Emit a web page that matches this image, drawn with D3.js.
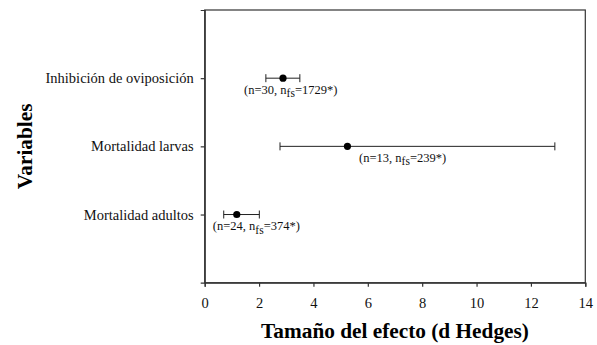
<!DOCTYPE html>
<html><head><meta charset="utf-8">
<script src="https://cdn.jsdelivr.net/npm/d3@7"></script>
<style>body{margin:0;background:#fff}svg{display:block}</style>
</head><body><svg id="c" width="597" height="345"></svg>
<script>
const categories = ["Inhibición de oviposición", "Mortalidad larvas", "Mortalidad adultos"];
const effect = [2.88, 5.25, 1.18];
const lower = [2.25, 2.77, 0.70];
const upper = [3.50, 12.88, 2.01];
const nStudies = [30, 13, 24];
const nFailSafe = [1729, 239, 374];
const labelX = [1.45, 5.68, 0.30];
const xTicks = [0, 2, 4, 6, 8, 10, 12, 14];

const svg = d3.select("#c");
const m = {l: 204.7, r: 585.3, t: 10, b: 282.7};
const x = d3.scaleLinear().domain([0, 14]).range([m.l, m.r]);
const y = d3.scalePoint().domain(categories).range([m.t, m.b]).padding(1);
const font = "'Liberation Serif','Times New Roman',serif";
const ax = "#333";

svg.append("rect").attr("x", m.l).attr("y", m.t).attr("width", m.r - m.l).attr("height", m.b - m.t)
  .attr("fill", "none").attr("stroke", ax).attr("stroke-width", 1.2);

const gx = svg.append("g").attr("transform", `translate(0,${m.b})`)
  .call(d3.axisBottom(x).tickValues(xTicks).tickSize(4).tickPadding(11).tickFormat(d3.format("d")));
const gy = svg.append("g").attr("transform", `translate(${m.l},0)`)
  .call(d3.axisLeft(y).tickSize(4).tickPadding(7));
[gx, gy].forEach(g => {
  g.attr("font-family", font).attr("font-size", 14.5);
  g.select(".domain").attr("stroke", ax).attr("stroke-width", 1.2);
  g.selectAll(".tick line").attr("stroke", ax).attr("stroke-width", 1.2);
  g.selectAll("text").attr("fill", "#111");
});

const rows = categories.map((c, i) => ({c, e: effect[i], lo: lower[i], hi: upper[i], n: nStudies[i], fs: nFailSafe[i], lx: labelX[i]}));
const g = svg.append("g");
rows.forEach(d => {
  const yy = y(d.c);
  g.append("line").attr("x1", x(d.lo)).attr("x2", x(d.hi)).attr("y1", yy).attr("y2", yy).attr("stroke", "#222").attr("stroke-width", 1);
  [d.lo, d.hi].forEach(v => g.append("line").attr("x1", x(v)).attr("x2", x(v)).attr("y1", yy - 4).attr("y2", yy + 4).attr("stroke", "#222").attr("stroke-width", 1));
  g.append("circle").attr("cx", x(d.e)).attr("cy", yy).attr("r", 3.6).attr("fill", "#000");
  const t = g.append("text").attr("x", x(d.lx)).attr("y", yy + 15.5).attr("font-family", font).attr("font-size", 12.5).attr("fill", "#111");
  t.append("tspan").text(`(n=${d.n}, n`);
  t.append("tspan").attr("dy", 3.5).attr("font-size", 11.5).text("fs");
  t.append("tspan").attr("dy", -3.5).text(`=${d.fs}*)`);
});

svg.append("text").attr("x", (m.l + m.r) / 2).attr("y", 338).attr("text-anchor", "middle")
  .attr("font-family", font).attr("font-size", 21.3).attr("font-weight", "bold").attr("fill", "#000")
  .text("Tamaño del efecto (d Hedges)");
svg.append("text").attr("transform", `translate(32,${(m.t + m.b) / 2}) rotate(-90)`).attr("text-anchor", "middle")
  .attr("font-family", font).attr("font-size", 21.3).attr("font-weight", "bold").attr("fill", "#000")
  .text("Variables");
</script></body></html>
